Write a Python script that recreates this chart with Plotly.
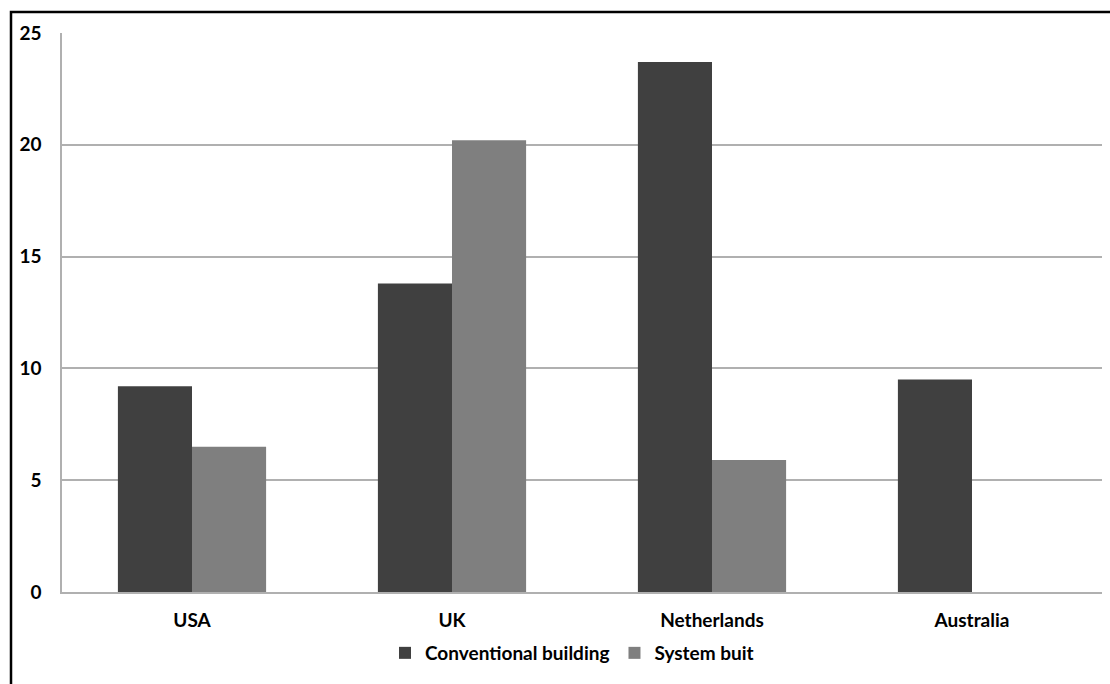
import plotly.graph_objects as go

categories = ["USA", "UK", "Netherlands", "Australia"]
conventional = [9.2, 13.8, 23.7, 9.5]
system_built = [6.5, 20.2, 5.9, None]
y_ticks = [0, 5, 10, 15, 20, 25]

W, H = 1110, 684
ml, mr, mt, mb = 62, 8, 33, 92
pw, ph = W - ml - mr, H - mt - mb

FAM = "Lato, 'Open Sans', sans-serif"
font = dict(family=FAM, size=19, color="#000000")

fig = go.Figure()
fig.add_trace(go.Bar(x=categories, y=conventional, name="Conventional building",
                     marker=dict(color="#404040", line=dict(width=0))))
fig.add_trace(go.Bar(x=categories, y=system_built, name="System buit",
                     marker=dict(color="#7f7f7f", line=dict(width=0))))

def px_x(x):
    return (x - ml) / pw

def px_y(y):
    return 1 - (y - mt) / ph

fig.update_layout(
    width=W, height=H,
    margin=dict(l=ml, r=mr, t=mt, b=mb),
    paper_bgcolor="white", plot_bgcolor="white",
    barmode="group", bargap=0.43, bargroupgap=0,
    font=font,
    showlegend=True,
    legend=dict(orientation="h", x=px_x(572), xanchor="center", y=px_y(653), yanchor="middle",
                font=dict(family=FAM, size=19, color="#000000", weight="bold"),
                itemwidth=30, tracegroupgap=0),
    xaxis=dict(showgrid=False, showline=True, linecolor="#b0b0b0", linewidth=1.5,
               ticks="", ticklabelstandoff=10, tickfont=dict(size=19, weight="bold")),
    yaxis=dict(range=[0, 25], tickvals=y_ticks, showgrid=True, gridcolor="#b0b0b0",
               gridwidth=1.5, showline=True, linecolor="#b0b0b0", linewidth=1.5,
               zeroline=False, ticks="", ticklabelstandoff=15,
               tickfont=dict(size=19, weight="bold")),
    shapes=[dict(type="rect", xref="paper", yref="paper",
                 x0=px_x(11), x1=px_x(W + 20), y0=px_y(H + 20), y1=px_y(12),
                 line=dict(color="#000000", width=2.5), fillcolor="rgba(0,0,0,0)",
                 layer="above")],
)

fig.write_html("out.html")
